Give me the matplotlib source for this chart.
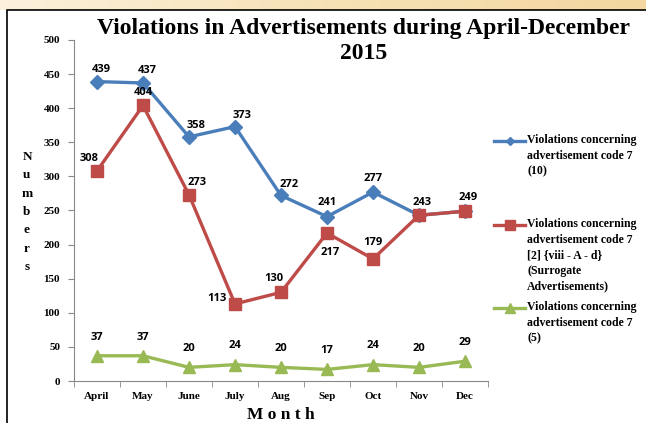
import matplotlib.pyplot as plt
import numpy as np
from matplotlib.lines import Line2D
from matplotlib.patches import Rectangle
from matplotlib.colors import LinearSegmentedColormap

months = ['April', 'May', 'June', 'July', 'Aug', 'Sep', 'Oct', 'Nov', 'Dec']
code_10 = [439, 437, 358, 373, 272, 241, 277, 243, 249]
code_surrogate = [308, 404, 273, 113, 130, 217, 179, 243, 249]
code_5 = [37, 37, 20, 24, 20, 17, 24, 20, 29]

legend_labels = ['Violations concerning\nadvertisement code 7\n(10)',
                 'Violations concerning\nadvertisement code 7\n[2] {viii - A - d}\n(Surrogate\nAdvertisements)',
                 'Violations concerning\nadvertisement code 7\n(5)']

blue = '#4A7EBB'
red = '#BE4B48'
green = '#98B954'
serif = 'Liberation Serif'
lab_font = 'Open Sans'

W, H = 646, 423
fig = plt.figure(figsize=(W / 100, H / 100), dpi=100)

# background strip and frame
bg = fig.add_axes([0, 0, 1, 1], zorder=-5)
bg.axis('off')
grad = np.linspace(0, 1, 256).reshape(1, -1)
cmap = LinearSegmentedColormap.from_list('bg', ['#fbf1dc', '#f6e2b6', '#f3d7a0'])
bg.imshow(grad, extent=[0, 1, 1 - 10 / H, 1], aspect='auto', cmap=cmap, transform=bg.transAxes)
bg.set_xlim(0, 1)
bg.set_ylim(0, 1)
bg.add_patch(Rectangle((7 / W, -0.1), 2, 1 - 10 / H + 0.1, facecolor='white',
                       edgecolor='black', linewidth=1.2, transform=bg.transAxes))

ax = fig.add_axes([74 / W, 1 - 381 / H, 414 / W, 341 / H])
x = np.arange(len(months))

ax.plot(x, code_10, color=blue, lw=2.4, marker='D', ms=7, zorder=3)
ax.plot(x, code_surrogate, color=red, lw=2.4, marker='s', ms=8, zorder=3)
ax.plot(x, code_5, color=green, lw=2.4, marker='^', ms=8.5, zorder=3)

# data labels (offsets in points); Nov and Dec share one label for both lines
blue_off = [(3, 9), (3, 9), (5, 8), (5, 8), (6, 8), (0, 10), (0, 10), (2, 9), None]
red_off = [(-6, 9), (0, 9), (6, 9), (-13, 4), (-5, 10), (2, -14), (0, 12), None, (2, 10)]
for i in range(len(months)):
    if blue_off[i]:
        ax.annotate(str(code_10[i]), (x[i], code_10[i]), xytext=blue_off[i], textcoords='offset points',
                    ha='center', va='center', fontsize=8, fontweight='bold', family=lab_font)
    if red_off[i]:
        ax.annotate(str(code_surrogate[i]), (x[i], code_surrogate[i]), xytext=red_off[i],
                    textcoords='offset points', ha='center', va='center', fontsize=8,
                    fontweight='bold', family=lab_font)
    ax.annotate(str(code_5[i]), (x[i], code_5[i]), xytext=(0, 13.5), textcoords='offset points',
                ha='center', va='center', fontsize=8, fontweight='bold', family=lab_font)

ax.set_xlim(-0.5, len(months) - 0.5)
ax.set_ylim(0, 500)
ax.set_yticks(range(0, 501, 50))
ax.set_xticks(x)
ax.set_xticklabels(months, fontfamily=serif, fontweight='bold', fontsize=8)
ax.set_xticks(np.arange(-0.5, len(months)), minor=True)
ax.tick_params(axis='x', which='major', length=0, pad=8)
ax.tick_params(axis='x', which='minor', length=4, color='#888888')
ax.tick_params(axis='y', length=4, color='#888888', pad=6)
for lab in ax.get_yticklabels():
    lab.set_fontfamily(serif)
    lab.set_fontweight('bold')
    lab.set_fontsize(8)
for s in ['top', 'right']:
    ax.spines[s].set_visible(False)
for s in ['left', 'bottom']:
    ax.spines[s].set_color('#888888')

fig.text(364 / W, 1 - 41 / H, 'Violations in Advertisements during April-December\n2015',
         ha='center', va='center', fontsize=17, fontweight='bold', family=serif, linespacing=1.3)
fig.text(27 / W, 1 - 212 / H, '\n'.join('Numbers'), ha='center', va='center', fontsize=9.5,
         fontweight='bold', family=serif, linespacing=1.7)
fig.text(281 / W, 1 - 415 / H, 'M o n t h', ha='center', va='center', fontsize=12.5,
         fontweight='bold', family=serif)

# legend drawn by hand
leg_y = [141, 225, 308]
for lab, yy, col, mk, ms in zip(legend_labels, leg_y, [blue, red, green], ['D', 's', '^'], [4.5, 7, 7]):
    fig.add_artist(Line2D([494 / W, 525 / W], [1 - yy / H] * 2, color=col, lw=2.4))
    fig.add_artist(Line2D([509.5 / W], [1 - yy / H], color=col, marker=mk, ms=ms))
    fig.text(527 / W, 1 - (yy - 7) / H, lab, ha='left', va='top', fontsize=8.5,
             fontweight='bold', family=serif, linespacing=1.4)

fig.savefig('out.png', dpi=100)
